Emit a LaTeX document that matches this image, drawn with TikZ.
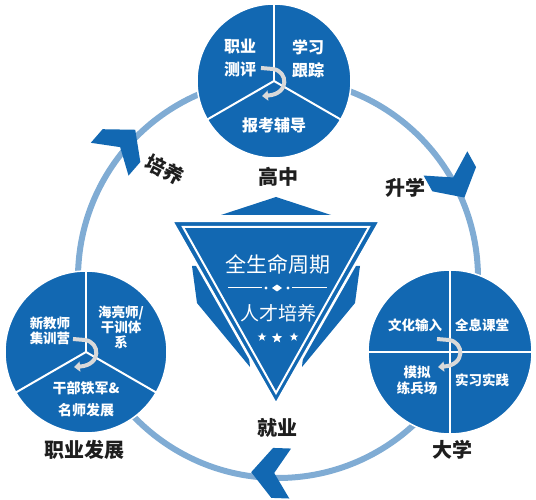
\documentclass[tikz,border=0pt]{standalone}
\usepackage{fontspec}
\newfontfamily\cjk{Noto Sans CJK SC}
\usetikzlibrary{positioning, arrows.meta, shapes.geometric}

\definecolor{mainblue}{RGB}{18,104,178}
\definecolor{ringblue}{RGB}{128,172,212}
\definecolor{darktext}{RGB}{30,30,30}

\tikzset{
  chevron/.pic={\fill[mainblue] (20,0) -- (-1,25) -- (-19,25) -- (-3,0) -- (-19,-25) -- (-1,-25) -- cycle;},
  swirl/.pic={\draw[line width=4pt, gray!30, -{Triangle[width=10pt,length=6pt]}] (-13,13) -- (-1,12) .. controls (14,10) and (16,-13) .. (-12,-15);}
}

\begin{document}
\begin{tikzpicture}[x=1pt, y=1pt]
\tikzstyle{disk}=[circle, fill=mainblue, draw=white, line width=1.5pt, inner sep=0pt]
\tikzstyle{divider}=[draw=white, line width=2pt]
\tikzstyle{ring}=[draw=ringblue, line width=6pt]
\tikzstyle{intext}=[text=white, align=center, inner sep=0pt]
\tikzstyle{bigin}=[intext, font=\cjk\bfseries\fontsize{16}{23}\selectfont]
\tikzstyle{smallin}=[intext, font=\cjk\bfseries\fontsize{13.5}{15}\selectfont]
\tikzstyle{stage}=[text=darktext, inner sep=0pt, font=\cjk\bfseries\fontsize{20}{24}\selectfont]
\tikzstyle{title}=[text=white, inner sep=0pt, font=\cjk\fontsize{21}{24}\selectfont]
\tikzstyle{starmark}=[star, star points=5, star point ratio=2.4, fill=white, inner sep=0pt]

\def \ringr {200}

\useasboundingbox (0,0) rectangle (536,500);

% ring and arrows
\coordinate (hub) at (278,222);
\draw[ring] (hub) circle (\ringr pt);
\begin{scope}[shift={(hub)}]
\pic[rotate=49]		(chup)	at (139.5:\ringr+5)	{chevron};
\pic[rotate=-61]	(chdown)	at (29:\ringr+2)	{chevron};
\pic[rotate=178]	(chleft)	at (268:\ringr-5)	{chevron};
\end{scope}

% three stages
\node[disk, minimum size=154pt]		(gz) at		(274,419)	{};
\node[disk, minimum size=162pt]		(zy) at		(86,148)	{};
\node[disk, minimum size=164pt]		(dx) at		(450,148)	{};

\draw[divider] (gz.center) -- (gz.90);
\draw[divider] (gz.center) -- (gz.210);
\draw[divider] (gz.center) -- (gz.330);
\draw[divider] (zy.center) -- (zy.90);
\draw[divider] (zy.center) -- (zy.210);
\draw[divider] (zy.center) -- (zy.330);
\draw[divider] (dx.180) -- (dx.0);
\draw[divider] (dx.90) -- (dx.270);

\pic at (gz.center) {swirl};
\pic at (zy.center) {swirl};
\pic at (dx.center) {swirl};

\node[bigin]		(gz1) at		(240,441.5)	{职业\\测评};
\node[bigin]		(gz2) at		(308,441.5)	{学习\\跟踪};
\node[bigin]		(gz3) at		(274,375)	{报考辅导};

\node[smallin]		(zy1) at		(50,169.5)	{新教师\\集训营};
\node[smallin]		(zy2) at		(121,173)	{海亮师/\\干训体\\系};
\node[smallin, font=\cjk\bfseries\fontsize{14}{22}\selectfont]	(zy3) at	(86,101)	{干部铁军\&\\名师发展};

\node[smallin]		(dx1) at		(415,175)	{文化输入};
\node[smallin]		(dx2) at		(482,175)	{全息课堂};
\node[smallin, font=\cjk\bfseries\fontsize{13.5}{16}\selectfont]	(dx3) at	(417,120)	{模拟\\练兵场};
\node[smallin]		(dx4) at		(482,120)	{实习实践};

\node[stage]				(lgz) at		(278,323)	{高中};
\node[stage]				(lsx) at		(405,312)	{升学};
\node[stage]				(ljy) at		(277,72)	{就业};
\node[stage]				(lzy) at		(85,50)		{职业发展};
\node[stage]				(ldx) at		(452,50)	{大学};
\node[stage, rotate=-27]	(lpy) at		(165,330)	{培养};

% centre badge
\fill[mainblue] (221,285) -- (276,303) -- (331,285) -- cycle;
\fill[mainblue] (192,234) -- (197,197) -- (250,133) -- (240,234) -- cycle;
\fill[mainblue] (360,234) -- (355,197) -- (302,133) -- (312,234) -- cycle;
\filldraw[fill=mainblue, draw=white, line width=2.5pt] (172,279) -- (380,279) -- (276,96) -- cycle;
\draw[white, line width=2pt] (183,273) -- (369,273) -- (276,107) -- cycle;

\node[title]						(life) at		(278,236)	{全生命周期};
\node[title, font=\cjk\fontsize{19}{22}\selectfont]	(talent) at	(278,187)	{人才培养};

\draw[white, line width=1pt] (228,212) -- (262,212);
\draw[white, line width=1pt] (292,212) -- (327,212);
\fill[white] (266,212) circle (1.6pt);
\fill[white] (288,212) circle (1.6pt);
\fill[white] (272,212) -- (277,215.5) -- (282,212) -- (277,208.5) -- cycle;

\node[starmark, minimum size=9pt]	(star1) at	(262,163)	{};
\node[starmark, minimum size=11pt]	(star2) at	(277,162)	{};
\node[starmark, minimum size=9pt]	(star3) at	(294,163)	{};

\end{tikzpicture}
\end{document}
